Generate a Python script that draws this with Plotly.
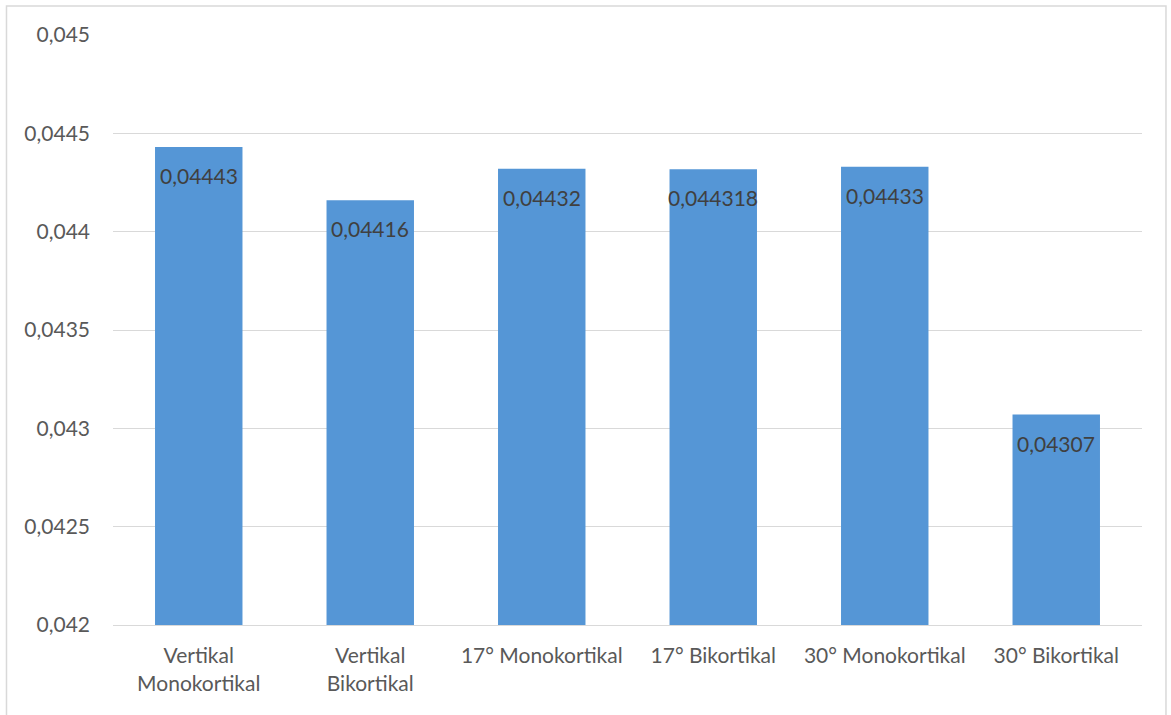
import plotly.graph_objects as go

categories = ["Vertikal<br>Monokortikal", "Vertikal<br>Bikortikal", "17° Monokortikal",
              "17° Bikortikal", "30° Monokortikal", "30° Bikortikal"]
values = [0.04443, 0.04416, 0.04432, 0.044318, 0.04433, 0.04307]
labels = [str(v).replace(".", ",") for v in values]
y_ticks = [0.042, 0.0425, 0.043, 0.0435, 0.044, 0.0445, 0.045]
y_tick_text = ["0,042", "0,0425", "0,043", "0,0435", "0,044", "0,0445", "0,045"]

fig = go.Figure(go.Bar(
    x=categories, y=values,
    marker=dict(color="#5596d6", line=dict(width=0)),
    width=0.51,
    hoverinfo="skip",
))

annotations = [dict(x=c, y=v, text=t, xref="x", yref="y", showarrow=False,
                    yanchor="top", yshift=-14,
                    font=dict(family="Lato", size=21, color="#404040"))
               for c, v, t in zip(categories, values, labels)]

fig.update_layout(
    width=1171, height=715,
    margin=dict(l=113, r=29, t=35, b=90),
    paper_bgcolor="white", plot_bgcolor="white",
    font=dict(family="Lato", color="#595959", size=21),
    showlegend=False,
    annotations=annotations,
    yaxis=dict(range=[0.042, 0.045], tickvals=y_ticks, ticktext=y_tick_text,
               showgrid=True, gridcolor="#d9d9d9", gridwidth=1, zeroline=False,
               showline=False, ticks="", ticklabelstandoff=22),
    xaxis=dict(showgrid=False, showline=True, linecolor="#d9d9d9", linewidth=1,
               ticks="", ticklabelstandoff=12, tickfont=dict(size=21)),
    shapes=[dict(type="rect", xref="paper", yref="paper",
                 x0=-0.1035, x1=1.0233, y0=-0.2, y1=1.049,
                 line=dict(color="#d9d9d9", width=1.5), fillcolor="rgba(0,0,0,0)",
                 layer="below")],
)

fig.write_html("out.html")
